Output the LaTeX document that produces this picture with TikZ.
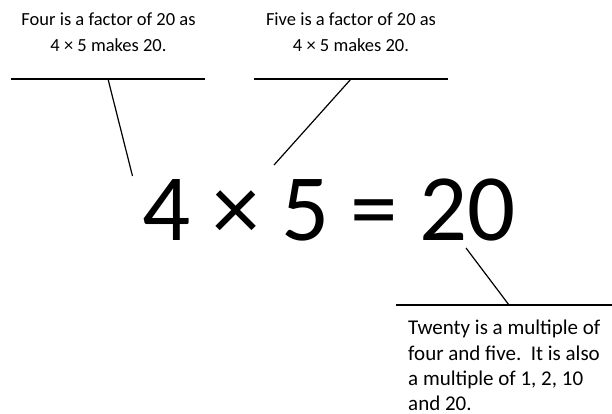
\documentclass[tikz,border=0pt]{standalone}
\usepackage{fontspec}
\setmainfont{Carlito}
\begin{document}
\begin{tikzpicture}[x=1pt,y=-1pt,
  rule/.style={line width=1.7pt},
  link/.style={line width=1.2pt},
  toptext/.style={inner sep=0pt,anchor=base,align=center,font=\fontsize{18.5}{25.7}\selectfont},
  bottext/.style={inner sep=0pt,anchor=base west,align=left,font=\fontsize{21}{25.3}\selectfont},
  bigtext/.style={inner sep=0pt,anchor=base,font=\fontsize{95}{110}\selectfont}]
\useasboundingbox (0,0) rectangle (612,414);
\fill[white] (0,0) rectangle (612,414);
% texts (base anchor = baseline of the last line)
\node[toptext] (tl) at (108.5,51.7) {Four is a factor of 20 as\\4 × 5 makes 20.};
\node[toptext] (tr) at (351,51.7) {Five is a factor of 20 as\\4 × 5 makes 20.};
\node[bigtext] (eq) at (329.5,240) {4 × 5 = 20};
\node[bottext] (br) at (408,410.7) {Twenty is a multiple of\\four and five.\ \ It is also\\a multiple of 1, 2, 10\\and 20.};
% rules
\coordinate (l1) at (11,79);  \coordinate (l2) at (205,79);  \coordinate (lm) at (108,79);
\coordinate (r1) at (254,79); \coordinate (r2) at (448,79);  \coordinate (rm) at (351,79);
\coordinate (b1) at (396,305); \coordinate (b2) at (612,305); \coordinate (bm) at (509,305);
\coordinate (four) at (132.5,176);
\coordinate (five) at (274,165);
\coordinate (twenty) at (466,248);
\draw[rule] (l1) -- (l2);
\draw[rule] (r1) -- (r2);
\draw[rule] (b1) -- (b2);
\draw[link] (lm) -- (four);
\draw[link] (rm) -- (five);
\draw[link] (twenty) -- (bm);
\end{tikzpicture}
\end{document}
